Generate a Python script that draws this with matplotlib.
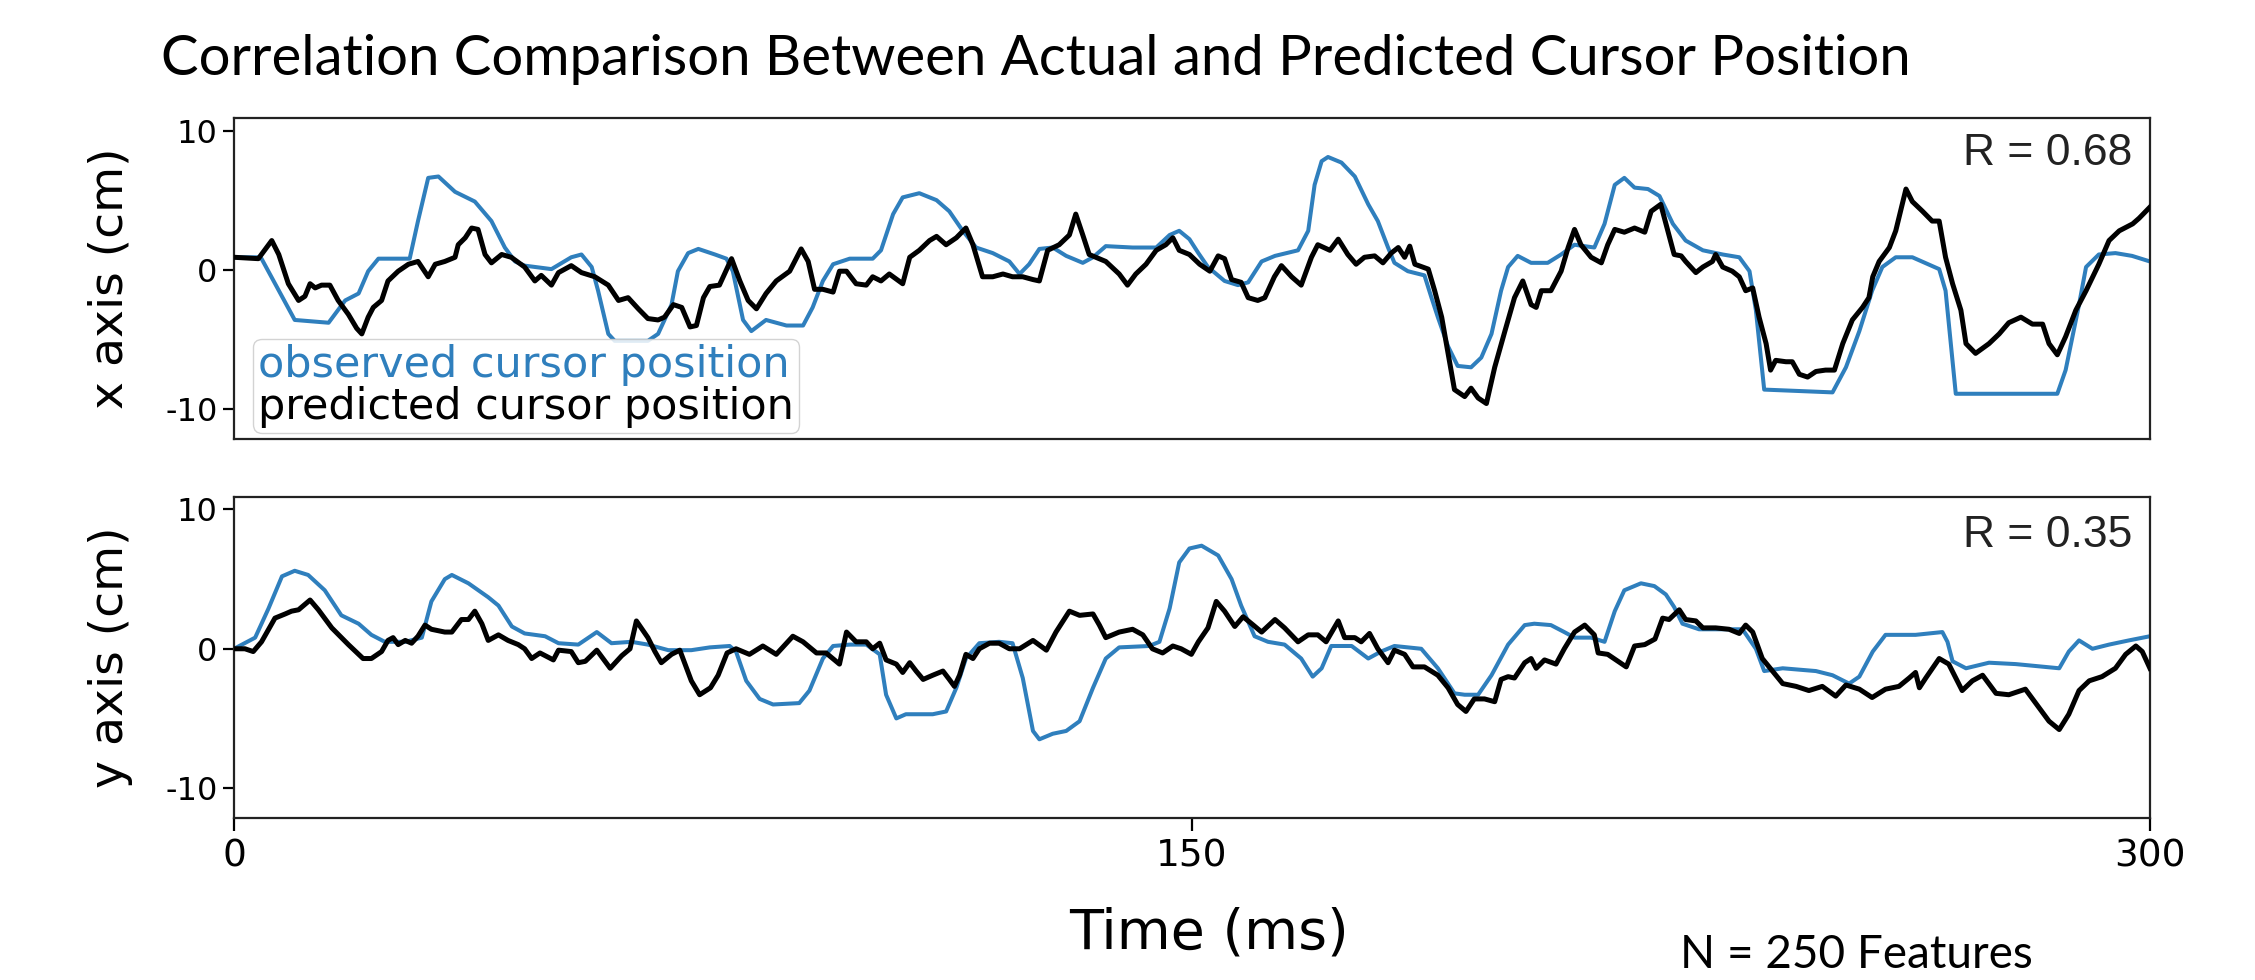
import matplotlib
matplotlib.use('Agg')
import matplotlib.pyplot as plt

# observed / predicted cursor position, x axis (top panel)
t_obs_x = [0, 3.8, 4.3, 9.5, 14.8, 17.4, 19.5, 21, 22.6, 27.5, 28.8, 30.4, 32, 34.6, 37.7,
           40.3, 42.4, 44, 45.5, 49.7, 52.8, 54.4, 56, 57, 58.6, 59.6, 64.8, 66.4, 68.5,
           69.5, 71.1, 72.7, 75.3, 77.1, 78.1, 79.7, 81, 83.3, 86.5, 89.1, 90.6, 92.2,
           93.8, 96.4, 100, 101.3, 103.2, 104.7, 107.3, 110, 112, 114.1, 116.2, 118.8,
           121.4, 123, 124.5, 126.1, 128.2, 130.3, 132.9, 134.5, 136.5, 140.7, 144.4,
           146.5, 148, 149.6, 151, 152.5, 155.1, 157.2, 158.8, 160.9, 163, 166.6, 168.2,
           169.2, 170.3, 171.3, 173.4, 175.5, 177.6, 179.1, 180.7, 181.7, 183.8, 186.4,
           187.5, 188.5, 190.1, 191.6, 193.7, 195.3, 196.9, 198.4, 199.5, 201, 203.1,
           205.7, 207.8, 209.9, 213, 214.6, 216.2, 217.7, 219.3, 221.4, 223.2, 225.3,
           227.3, 230, 233.1, 235.7, 237.3, 238.3, 239.6, 250.3, 252.4, 254.5, 256.5,
           258.1, 260.2, 262.8, 267, 268, 269.6, 285.5, 286.8, 288.9, 290, 292, 294.6,
           297.2, 300]
obs_x = [0.9, 0.9, 0.8, -3.6, -3.8, -2.2, -1.7, -0.1, 0.8, 0.8, 3.5, 6.6, 6.7, 5.6, 4.9,
         3.5, 1.6, 0.6, 0.3, 0.05, 0.9, 1.1, 0.2, -1.5, -4.6, -5.1, -5.1, -4.6, -2.5,
         -0.1, 1.2, 1.5, 1.1, 0.8, -0.1, -3.6, -4.4, -3.6, -4.0, -4.0, -2.7, -0.8,
         0.4, 0.8, 0.8, 1.4, 4.0, 5.2, 5.5, 5.0, 4.2, 2.8, 1.6, 1.2,
         0.6, -0.3, 0.4, 1.5, 1.6, 1.0, 0.5, 0.9, 1.7, 1.6, 1.6,
         2.5, 2.8, 2.2, 1.2, 0.2, -0.8, -1.1, -0.9, 0.6, 1.0, 1.4, 2.8,
         6.1, 7.8, 8.1, 7.7, 6.7, 4.7, 3.5, 1.6, 0.5, -0.1, -0.4,
         -2.0, -3.4, -5.5, -6.9, -7.0, -6.3, -4.6, -1.5, 0.2, 1.0, 0.5,
         0.5, 1.1, 1.8, 1.6, 3.3, 6.1, 6.6, 5.9, 5.8, 5.3, 3.3,
         2.1, 1.4, 1.1, 0.9, -0.1, -2.9, -8.6, -8.8, -7.0, -4.4, -1.5,
         0.2, 0.9, 0.9, 0.05, -1.5, -8.9, -8.9, -7.2, -2.5, 0.2, 1.1, 1.2,
         1.0, 0.6]

t_pred_x = [0, 3.8, 5.9, 7, 8.5, 10.1, 11.1, 11.9, 12.7, 13.7, 15, 16.3, 17.9, 19.2, 20,
            21, 21.8, 23.1, 24.1, 25.7, 27.3, 28.8, 30.4, 31.5, 33, 34.6, 35.1, 36.2,
            37.2, 38.2, 39.3, 40.3, 41.9, 43.4, 45.5, 47.1, 48.1, 49.7, 50.8, 52.8, 54.4,
            56.5, 58.6, 60.2, 61.7, 63.3, 64.8, 66.4, 67.4, 68.8, 70.1, 71.4, 72.4, 73.5,
            74.5, 76, 77.9, 79.2, 80.5, 81.8, 83.3, 84.9, 87, 88.8, 89.9, 90.9, 92.2, 93.8,
            94.8, 95.9, 97.4, 99, 100, 101.3, 102.6, 104.7, 105.8, 107.3, 108.9, 110,
            111.5, 113.1, 114.6, 115.7, 117.2, 118.8, 120.4, 121.9, 123.5, 125.1, 126.1,
            127.4, 129.2, 130.8, 131.8, 132.9, 133.9, 136.5, 138.6, 139.9, 141.2, 142.8,
            144.4, 145.9, 147, 148, 149.6, 151.2, 152.8, 154.1, 155.1, 156.2, 157.7,
            158.8, 160.3, 161.4, 162.9, 164, 165.6, 167.1, 168.7, 169.7, 171.6, 172.9,
            174.4, 175.7, 177, 178.6, 179.9, 181.2, 182.3, 183.3, 184.1, 184.9, 187, 188,
            189.1, 190.1, 191.1, 192.7, 193.7, 194.8, 196.1, 197.4, 199, 200.5, 201.8,
            203.1, 203.9, 204.7, 206.2, 207.8, 208.9, 209.9, 210.9, 212.5, 214.1, 215.1,
            216.2, 217.7, 219.3, 220.9, 221.9, 223.4, 224.5, 225.5, 226.6, 227.3, 228.9,
            230, 231.5, 232, 233.1, 234.6, 235.7, 236.7, 237.8, 238.8, 239.9, 240.6,
            241.4, 243, 244, 245.1, 246.4, 247.7, 249.2, 250.6, 251.9, 253.4, 255, 256,
            256.6, 257.6, 259.2, 260.2, 261.8, 262.8, 264.4, 265.9, 267, 268, 269.1,
            270.4, 271.2, 272.7, 274.8, 276.4, 277.9, 279.8, 281.6, 283.2, 284.2, 285.5,
            286.8, 288.4, 290, 292, 293.6, 295.2, 297.3, 298.3, 300]
pred_x = [0.9, 0.8, 2.1, 1.1, -1.0, -2.2, -1.9, -1.0, -1.3, -1.1, -1.1, -2.2, -3.2, -4.2, -4.6,
          -3.4, -2.7, -2.2, -0.8, -0.1, 0.4, 0.6, -0.5, 0.4, 0.6, 0.9, 1.8, 2.3,
          3.0, 2.9, 1.1, 0.5, 1.1, 0.9, 0.2, -0.8, -0.4, -1.1, -0.2, 0.3, -0.2,
          -0.5, -1.1, -2.2, -2.0, -2.8, -3.5, -3.6, -3.4, -2.5, -2.7, -4.1, -4.0, -2.0,
          -1.2, -1.1, 0.8, -0.8, -2.2, -2.8, -1.7, -0.8, -0.1, 1.5, 0.6, -1.4, -1.4, -1.6,
          -0.1, -0.1, -1.0, -1.1, -0.5, -0.8, -0.3, -1.0, 0.9, 1.4, 2.1, 2.4,
          1.8, 2.3, 3.0, 1.8, -0.5, -0.5, -0.3, -0.5, -0.5, -0.7, -0.8,
          1.4, 1.8, 2.5, 4.0, 2.5, 1.1, 0.6, -0.3, -1.1, -0.3, 0.4,
          1.4, 1.8, 2.3, 1.4, 1.1, 0.4, -0.1, 1.0, 0.8, -0.7, -0.9,
          -2.0, -2.2, -2.0, -0.5, 0.3, -0.5, -1.1, 0.9, 1.8, 1.4, 2.2,
          1.1, 0.4, 0.9, 1.0, 0.5, 1.2, 1.6, 0.9, 1.7, 0.4, 0.05, -1.5,
          -3.4, -6.0, -8.6, -9.1, -8.5, -9.2, -9.6, -7.0, -4.4, -2.0, -0.8,
          -2.5, -2.7, -1.5, -1.5, -0.1, 1.6, 2.9, 1.8, 0.9, 0.5, 1.8,
          2.9, 2.7, 3.0, 2.7, 4.2, 4.7, 2.8, 1.1, 1.0, 0.6, -0.2,
          0.2, 0.6, 1.1, 0.2, -0.1, -0.5, -1.5, -1.3, -3.4, -5.3, -7.2,
          -6.5, -6.6, -6.6, -7.5, -7.7, -7.3, -7.2, -7.2, -5.3, -3.6, -2.7, -2.0,
          -0.5, 0.6, 1.6, 2.8, 5.8, 4.9, 4.2, 3.5, 3.5, 0.9, -1.0,
          -2.9, -5.3, -6.0, -5.3, -4.6, -3.8, -3.4, -3.9, -3.9, -5.3, -6.1,
          -4.8, -2.9, -1.5, 0.4, 2.1, 2.8, 3.3, 3.7, 4.5]

# observed / predicted cursor position, y axis (bottom panel)
t_obs_y = [0, 3.3, 5.4, 7.5, 9.5, 11.6, 14.2, 16.8, 19.5, 21.5, 23.6, 26.8, 29.4, 30.9, 33,
           34.1, 36.7, 39.8, 41.4, 43.5, 45.5, 48.7, 50.8, 53.9, 56.8, 59.1, 62.2, 64.8,
           68, 71.6, 74.5, 77.6, 78.6, 80.2, 82.3, 84.4, 88.5, 90.1, 92.2, 93.8, 96.4,
           99, 101.1, 102.1, 103.7, 105.2, 109.4, 111.5, 113.1, 114.6, 116.7, 119.8,
           121.9, 123.5, 125.1, 126.1, 128.2, 130.3, 132.4, 134.5, 136.5, 138.6, 143.3,
           144.9, 146.5, 148, 149.6, 151.5, 154.1, 156.2, 157.7, 159.8, 161.9, 164.5,
           167.1, 168.9, 170.3, 171.8, 175, 177.6, 179.6, 181.7, 185.9, 188.5, 191.1,
           192.7, 194.8, 196.9, 199.5, 202.1, 203.6, 206.2, 208.3, 209.9, 212.5, 214.6,
           216.2, 217.7, 220.3, 222.4, 224.2, 225.5, 226.8, 229.4, 232, 236.2, 238.3,
           239.6, 242.5, 247.7, 250.3, 252.9, 254.5, 256.6, 258.6, 263.3, 267.5, 268.3,
           269.1, 271.2, 274.8, 279, 285.8, 287.3, 288.9, 291, 293.6, 296.7, 300]
obs_y = [0.0, 0.8, 2.9, 5.2, 5.6, 5.3, 4.2, 2.4, 1.8, 1.0, 0.5, 0.5, 0.8, 3.4, 5.0,
         5.3, 4.7, 3.7, 3.1, 1.6, 1.1, 0.9, 0.4, 0.3, 1.2, 0.4, 0.5, 0.3,
         -0.1, -0.1, 0.1, 0.2, -0.2, -2.3, -3.6, -4.0, -3.9, -3.0, -0.7, 0.2, 0.3,
         0.3, -0.4, -3.3, -5.0, -4.7, -4.7, -4.5, -2.8, -0.7, 0.4, 0.5,
         0.4, -2.1, -5.9, -6.5, -6.1, -5.9, -5.2, -2.8, -0.7, 0.1, 0.2,
         0.5, 2.9, 6.2, 7.2, 7.4, 6.7, 5.0, 3.1, 0.9, 0.5, 0.3,
         -0.7, -2.0, -1.4, 0.2, 0.2, -0.7, -0.2, 0.2, 0.0, -1.4, -3.2,
         -3.3, -3.3, -1.9, 0.3, 1.7, 1.8, 1.7, 1.2, 0.8, 0.8, 0.5,
         2.7, 4.2, 4.7, 4.5, 3.9, 3.0, 1.8, 1.4, 1.4, 1.4, 0.0,
         -1.6, -1.4, -1.6, -1.9, -2.5, -2.0, -0.2, 1.0, 1.0, 1.2, 0.5,
         -0.9, -1.4, -1.0, -1.1, -1.4, -0.2, 0.6, 0.0, 0.3, 0.6, 0.9]

t_pred_y = [0, 1.7, 3, 4.3, 6.4, 8, 9, 10.1, 11.9, 13.2, 15.3, 17.9, 20.2, 21.5, 23.1, 24.1,
            24.9, 25.7, 26.8, 27.8, 28.8, 29.9, 30.9, 33, 34.1, 35.6, 36.7, 37.7, 38.8,
            39.8, 41.4, 42.9, 44.5, 45.5, 46.6, 47.9, 50, 50.8, 52.8, 53.9, 55, 56.8,
            58.9, 60.7, 62, 63, 64.8, 65.9, 66.9, 68.5, 69.8, 71.6, 72.9, 74.6, 75.8,
            77.2, 78.6, 80.7, 82.8, 84.9, 87.5, 89.1, 91.2, 92.7, 94.8, 95.9, 97.4, 99,
            100, 101.1, 102.1, 103.7, 104.7, 105.8, 106.8, 107.9, 109.4, 111, 112, 112.8,
            113.6, 114.6, 115.7, 116.7, 118.3, 119.8, 121.4, 123, 125.1, 127.2, 128.7,
            130.8, 132.4, 134.5, 135.5, 136.5, 138.6, 140.7, 142.3, 143.8, 145.4, 147,
            148.3, 149.9, 151, 152.5, 153.8, 155.1, 156.7, 158, 159.6, 160.9, 163, 164.5,
            166.6, 168.2, 169.7, 171, 172.9, 173.9, 175.5, 176.5, 177.8, 179.1, 180.7,
            181.7, 183.3, 184.6, 186.4, 188.5, 190.1, 191.6, 192.9, 194.2, 195.8, 197.4,
            198.4, 199.5, 200.5, 202.1, 203.1, 203.9, 205.2, 207, 208.3, 209.9, 211.5,
            213, 213.6, 215.1, 216.7, 218, 219.3, 220.9, 222.5, 223.7, 224.7, 226.3,
            227.3, 228.9, 230, 232, 234.1, 235.7, 236.7, 237.8, 239.3, 240.9, 242.5,
            244.6, 246.6, 248.7, 250.8, 252.4, 254.5, 256.5, 258.6, 260.7, 262.3, 263.3,
            263.9, 264.9, 267, 268.5, 270.6, 272.2, 273.8, 275.9, 277.9, 280.5, 282.6,
            284.2, 285.8, 287.3, 288.9, 290.5, 292.5, 294.6, 296.2, 297.8, 298.8, 300]
pred_y = [0.0, 0.0, -0.2, 0.5, 2.2, 2.5, 2.7, 2.8, 3.5, 2.8, 1.5, 0.3, -0.7, -0.7, -0.2, 0.6,
          0.8, 0.3, 0.6, 0.4, 0.9, 1.7, 1.4, 1.2, 1.2, 2.1, 2.1, 2.7, 1.8,
          0.6, 1.0, 0.6, 0.3, 0.0, -0.7, -0.3, -0.8, -0.1, -0.2, -1.0, -0.9, -0.1,
          -1.4, -0.5, 0.0, 2.0, 0.8, -0.2, -1.0, -0.4, -0.1, -2.3, -3.3, -2.8, -1.9,
          -0.3, 0.0, -0.4, 0.2, -0.4, 0.9, 0.5, -0.3, -0.3, -1.1, 1.2, 0.5, 0.5,
          0.0, 0.4, -0.8, -1.1, -1.7, -1.0, -1.6, -2.2, -1.9, -1.6, -2.2, -2.7,
          -1.9, -0.4, -0.7, 0.0, 0.4, 0.4, 0.0, 0.0, 0.6, -0.1, 1.2,
          2.7, 2.4, 2.5, 1.7, 0.8, 1.2, 1.4, 1.0, 0.0, -0.3, 0.2,
          0.0, -0.4, 0.5, 1.5, 3.4, 2.7, 1.6, 2.3, 1.7, 1.2, 2.1, 1.5,
          0.5, 1.0, 1.0, 0.5, 2.0, 0.8, 0.8, 0.5, 1.1, 0.0, -1.0,
          -0.1, -0.4, -1.3, -1.3, -1.9, -2.8, -4.0, -4.5, -3.6, -3.6, -3.8,
          -2.2, -2.0, -2.1, -1.0, -0.7, -1.4, -0.8, -1.1, 0.0, 1.2, 1.7,
          1.0, -0.3, -0.4, -0.9, -1.3, 0.2, 0.3, 0.7, 2.2, 2.1, 2.8,
          2.1, 2.0, 1.5, 1.5, 1.4, 1.1, 1.7, 1.2, -0.7, -1.6, -2.5,
          -2.7, -3.0, -2.7, -3.4, -2.6, -2.9, -3.5, -2.9, -2.7, -2.1, -1.7,
          -2.8, -2.1, -0.7, -1.1, -3.0, -2.3, -1.9, -3.2, -3.3, -2.9, -4.2,
          -5.2, -5.8, -4.7, -3.0, -2.3, -2.0, -1.4, -0.4, 0.2, -0.2, -1.4]

r_values = ['R = 0.68', 'R = 0.35']
y_labels = ['x axis (cm)', 'y axis (cm)']
x_ticks = [0, 150, 300]
y_ticks = [-10, 0, 10]

blue = '#2f7fbd'

plt.rcParams['font.family'] = ['DejaVu Sans']
plt.rcParams['axes.unicode_minus'] = False

fig = plt.figure(figsize=(22.55, 9.8), dpi=100)
ax1 = fig.add_axes([0.1038, 0.552, 0.8496, 0.3276])
ax2 = fig.add_axes([0.1038, 0.1653, 0.8496, 0.3276])

series = [(ax1, t_obs_x, obs_x, t_pred_x, pred_x),
          (ax2, t_obs_y, obs_y, t_pred_y, pred_y)]

for i, (ax, to, o, tp, p) in enumerate(series):
    ax.plot(to, o, color=blue, lw=2.9, label='observed cursor position', zorder=2,
            solid_joinstyle='round')
    ax.plot(tp, p, color='black', lw=3.6, label='predicted cursor position', zorder=3,
            solid_joinstyle='round')
    ax.set_xlim(0, 300)
    ax.set_ylim(-12.15, 10.9)
    ax.set_yticks(y_ticks)
    ax.set_xticks(x_ticks)
    ax.tick_params(axis='y', labelsize=23, length=8, width=1.6, pad=4)
    ax.tick_params(axis='x', labelsize=27, length=9, width=1.6, pad=6)
    for sp in ax.spines.values():
        sp.set_linewidth(1.6)
        sp.set_color('#222222')
    ax.set_ylabel(y_labels[i], fontsize=34)
    ax.yaxis.set_label_coords(-0.053, 0.5)
    ax.text(0.9906, 0.855 if i == 0 else 0.843, r_values[i], transform=ax.transAxes,
            ha='right', va='baseline', fontsize=32, family='Liberation Sans', color='#222222')

ax1.tick_params(axis='x', bottom=False, labelbottom=False)
ax2.set_xlabel('Time (ms)', fontsize=40, va='top')
ax2.xaxis.set_label_coords(0.509, -0.275)

leg = ax1.legend(loc='lower left', bbox_to_anchor=(0.0099, 0.0187), borderaxespad=0,
                 handlelength=0, handletextpad=0, fontsize=31, labelspacing=0,
                 borderpad=0.12, fancybox=True, framealpha=0.85, edgecolor='#cccccc')
for h in leg.legend_handles:
    h.set_visible(False)
leg.get_texts()[0].set_color(blue)
leg.get_texts()[1].set_color('black')

fig.text(161 / 2255, 1 - 75 / 980,
         'Correlation Comparison Between Actual and Predicted Cursor Position',
         fontsize=40.5, family='Lato', va='baseline', ha='left')
fig.text(1680 / 2255, 1 - 968 / 980, 'N = 250 Features',
         fontsize=33, family='Lato', va='baseline', ha='left')

fig.savefig('out.png', dpi=100)
